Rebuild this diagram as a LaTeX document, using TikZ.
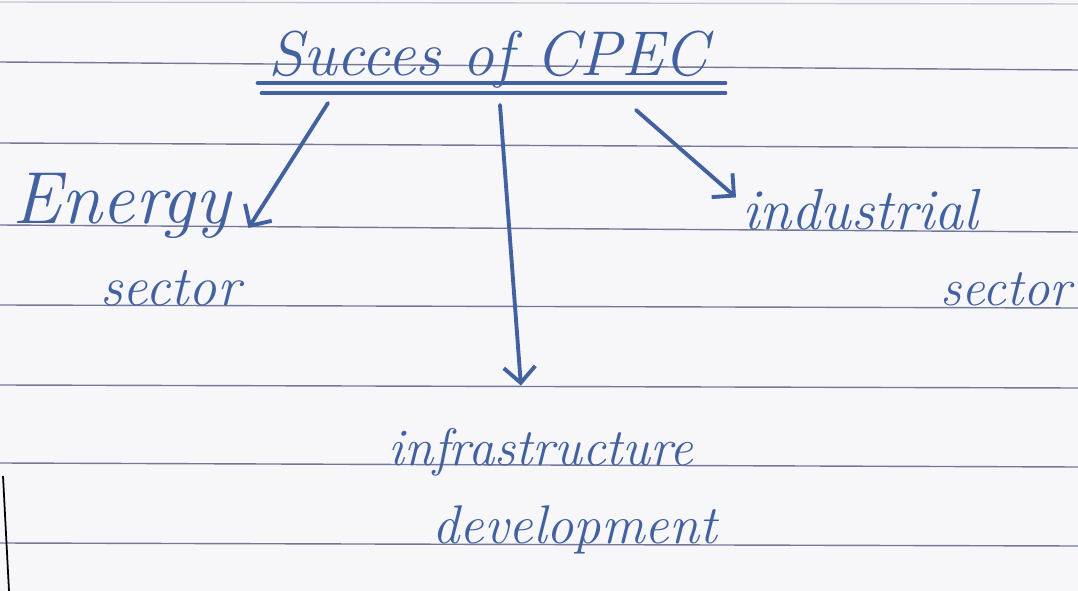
\documentclass[tikz,border=0pt]{standalone}
\usepackage{tikz}
\usetikzlibrary{positioning}
\usetikzlibrary{arrows.meta}
\usetikzlibrary{calc}
\definecolor{ink}{rgb}{0.26, 0.38, 0.63}
\definecolor{ruleblue}{rgb}{0.45, 0.47, 0.60}
\definecolor{paper}{rgb}{0.97, 0.97, 0.98}
\tikzset{
    hand/.style={text=ink, inner sep=0pt, font=\itshape\fontsize{#1}{#1}\selectfont},
    hand/.default=30,
    pen/.style={draw=ink, line width=2.2pt, line cap=round, -{Straight Barb[length=9pt, width=18pt, line width=2.2pt]}},
    ruled/.style={draw=ruleblue, line width=0.8pt}
}

\begin{document}
\begin{tikzpicture}[x=0.02cm, y=-0.02cm]
                % Paper
                \fill[paper] (0,0) rectangle (1078,591);
                \useasboundingbox (0,0) rectangle (1078,591);

                % Ruled lines
                \draw[ruled, opacity=0.4] (0,2) -- (1078,4);
                \foreach \yl/\yr in {62/70, 143/148, 225/232, 305/308, 385/388, 463/467, 543/546}
                    \draw[ruled] (0,\yl) -- (1078,\yr);
                \draw[black, line width=1pt] (3,476) -- (9,591);

                % Heading
                \node[hand=36, anchor=base west] (title) at (268,76) {Succes of CPEC};
                \draw[ink, line width=2.8pt, line cap=round] (258,83) -- (725,83);
                \draw[ink, line width=2.8pt, line cap=round] (262,93) -- (725,93);

                % Branches
                \node[hand=42, anchor=base west] (energy) at (12,224) {Energy};
                \node[hand=32, anchor=base west] (energysec) at (100,305) {sector};
                \node[hand=33, anchor=base west] (industry) at (742,230) {industrial};
                \node[hand=30, anchor=base west] (industrysec) at (940,305) {sector};
                \node[hand=30, anchor=base west] (infra) at (388,465) {infrastructure};
                \node[hand=31, anchor=base west] (infradev) at (432,543) {development};

                % Arrows
                \coordinate (s1) at (328,103);
                \coordinate (s2) at (500,105);
                \coordinate (s3) at (636,110);
                \draw[pen] (s1) -- ($(energy.base east)+(18,4)$);
                \draw[pen] (s2) -- ($(infra.north)+(-20,-42)$);
                \draw[pen] (s3) -- ($(industry.north west)+(-6,8)$);
            \end{tikzpicture}
\end{document}
